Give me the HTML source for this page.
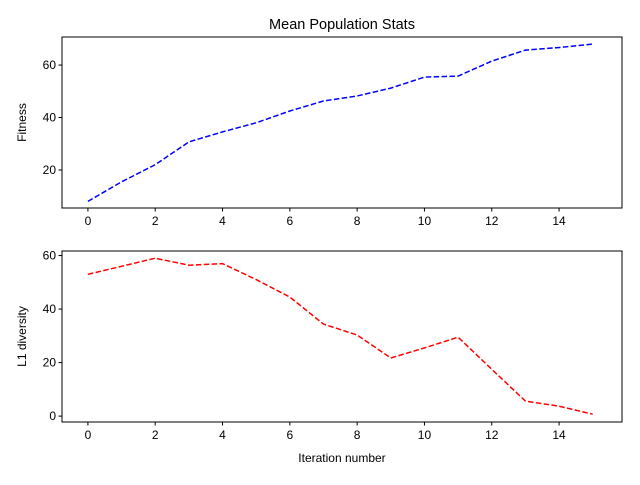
<!DOCTYPE html>
<html><head><meta charset="utf-8"><style>
body{margin:0;background:#fff;}
svg text{font-family:"Liberation Sans","DejaVu Sans",sans-serif;font-size:12px;fill:#000;}
</style></head><body>
<svg id="chart" width="640" height="480">
<rect width="640" height="480" fill="#fff"/>
<text x="342" y="29" text-anchor="middle" style="font-size:14.5px">Mean Population Stats</text>
<g id="g"></g>
</svg>
<script>
const iterations=[0,1,2,3,4,5,6,7,8,9,10,11,12,13,14,15];
const fitness=[8,15.5,22,30.7,34.5,38,42.5,46.3,48.2,51.2,55.4,55.8,61.5,65.7,66.7,68];
const diversity=[53,56,59,56.4,57,51,44.5,34.4,30.3,21.7,25.5,29.5,17.5,5.6,3.7,0.7];
const xTicks=[0,2,4,6,8,10,12,14];
const topTicks=[20,40,60];
const botTicks=[0,20,40,60];
const NS='http://www.w3.org/2000/svg';
const g=document.getElementById('g');
function mk(t,a,txt){const e=document.createElementNS(NS,t);for(const k in a)e.setAttribute(k,a[k]);if(txt!==undefined)e.textContent=txt;g.appendChild(e);return e;}
const X0=62,X1=622;
function xs(v){return X0+(v-(-0.77))/(15.87-(-0.77))*(X1-X0);}
function panel(y0,y1,ymin,ymax,ticks,vals,color,label,name,showXLabels){
  const ys=v=>y1-(v-ymin)/(ymax-ymin)*(y1-y0);
  let e=mk('rect',{x:X0,y:y0,width:X1-X0,height:y1-y0,fill:'none',stroke:'#000','stroke-width':1});
  
  
  ticks.forEach(t=>{const y=ys(t);
    mk('line',{x1:X0-3.5,x2:X0,y1:y,y2:y,stroke:'#000'});
    e=mk('text',{x:X0-6,y:y+4,'text-anchor':'end'},t);
    
    
  });
  xTicks.forEach(t=>{const x=xs(t);
    mk('line',{x1:x,x2:x,y1:y1,y2:y1+3.5,stroke:'#000'});
    e=mk('text',{x:x,y:y1+17,'text-anchor':'middle'},t);
    
    
  });
  const cy=(y0+y1)/2;
  e=mk('text',{x:0,y:0,'text-anchor':'middle',transform:`translate(26,${cy}) rotate(-90)`},label);
  
  
  const pts=iterations.map((it,i)=>xs(it).toFixed(1)+','+ys(vals[i]).toFixed(1)).join(' ');
  e=mk('polyline',{points:pts,fill:'none',stroke:color,'stroke-width':1.5,'stroke-dasharray':'5.5,2.4'});
  
  
}
panel(37,208,5.5,70.7,topTicks,fitness,'#0000ff','Fitness','fitness',true);
panel(251,422,-2.2,61.7,botTicks,diversity,'#ff0000','L1 diversity','diversity',true);
const xl=mk('text',{x:342,y:462,'text-anchor':'middle'},'Iteration number');


</script>
</body></html>
